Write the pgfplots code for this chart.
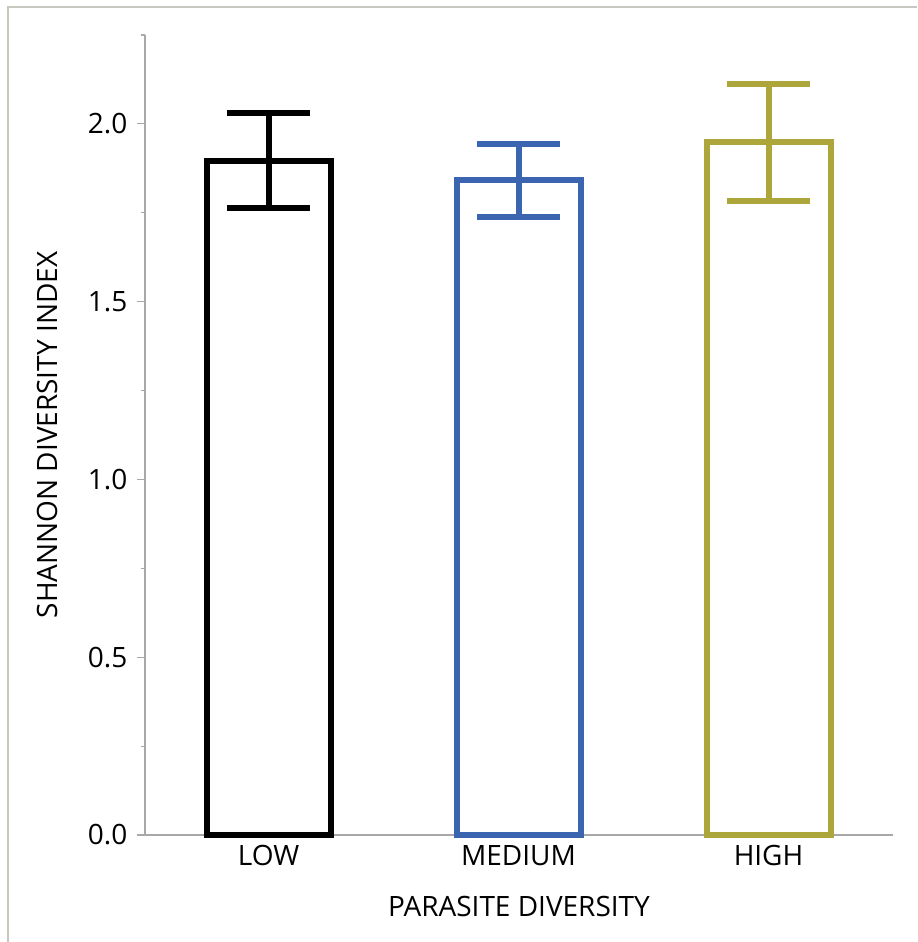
\documentclass[border=0pt]{standalone}
\usepackage{pgfplots}
\pgfplotsset{compat=1.18}
\usepackage{fontspec}
\setmainfont{Open Sans}
\definecolor{axgray}{HTML}{A8A8A8}
\definecolor{framegray}{HTML}{C8C8C0}
\definecolor{barblue}{HTML}{3B64B1}
\definecolor{barolive}{HTML}{ADA63B}
\begin{document}
\begin{tikzpicture}
\useasboundingbox (0,0) rectangle (458.5pt,471pt);
\draw[framegray, line width=1pt] (4pt,0) -- (4pt,467.5pt) -- (458.5pt,467.5pt);
\begin{axis}[
  at={(72.5pt,53.5pt)}, anchor=south west,
  scale only axis, width=374pt, height=400pt,
  xmin=-0.494, xmax=2.498, ymin=0, ymax=2.25,
  axis x line*=bottom, axis y line*=left,
  axis line style={axgray, line width=0.6pt},
  tick align=outside,
  xtick={0,1,2}, xticklabels={LOW,MEDIUM,HIGH},
  xtick style={draw=none},
  ytick={0,0.5,1,1.5,2},
  minor ytick={0.25,0.75,1.25,1.75,2.25},
  ytick style={axgray, line width=0.6pt},
  major tick length=4pt, minor tick length=2pt,
  tick label style={font=\fontsize{14}{16}\selectfont},
  yticklabel style={/pgf/number format/fixed, /pgf/number format/fixed zerofill, /pgf/number format/precision=1, /pgf/number format/assume math mode=true, xshift=-1.3pt},
  xticklabel style={yshift=2.5pt},
  label style={font=\fontsize{14}{16}\selectfont},
  xlabel={PARASITE DIVERSITY},
  ylabel={SHANNON DIVERSITY INDEX},
  xlabel style={at={(axis description cs:0.5,-0.09)}, anchor=center},
  ylabel style={at={(axis description cs:-0.131,0.5)}, anchor=center},
  clip=false,
]
\addplot[ybar, bar width=62pt, bar shift=0pt, draw=black, fill=none, line width=3pt,
  error bars/.cd, y dir=both, y explicit,
  error bar style={line width=3pt, black},
  error mark options={rotate=90, line width=3pt, mark size=20.75pt, black}]
  coordinates {(0,1.896) += (0,0.135) -= (0,0.133)};
\addplot[ybar, bar width=62pt, bar shift=0pt, draw=barblue, fill=none, line width=3pt,
  error bars/.cd, y dir=both, y explicit,
  error bar style={line width=3pt, barblue},
  error mark options={rotate=90, line width=3pt, mark size=20.75pt, barblue}]
  coordinates {(1,1.843) += (0,0.101) -= (0,0.104)};
\addplot[ybar, bar width=62pt, bar shift=0pt, draw=barolive, fill=none, line width=3pt,
  error bars/.cd, y dir=both, y explicit,
  error bar style={line width=3pt, barolive},
  error mark options={rotate=90, line width=3pt, mark size=20.75pt, barolive}]
  coordinates {(2,1.948) += (0,0.164) -= (0,0.164)};
\end{axis}
\end{tikzpicture}
\end{document}
